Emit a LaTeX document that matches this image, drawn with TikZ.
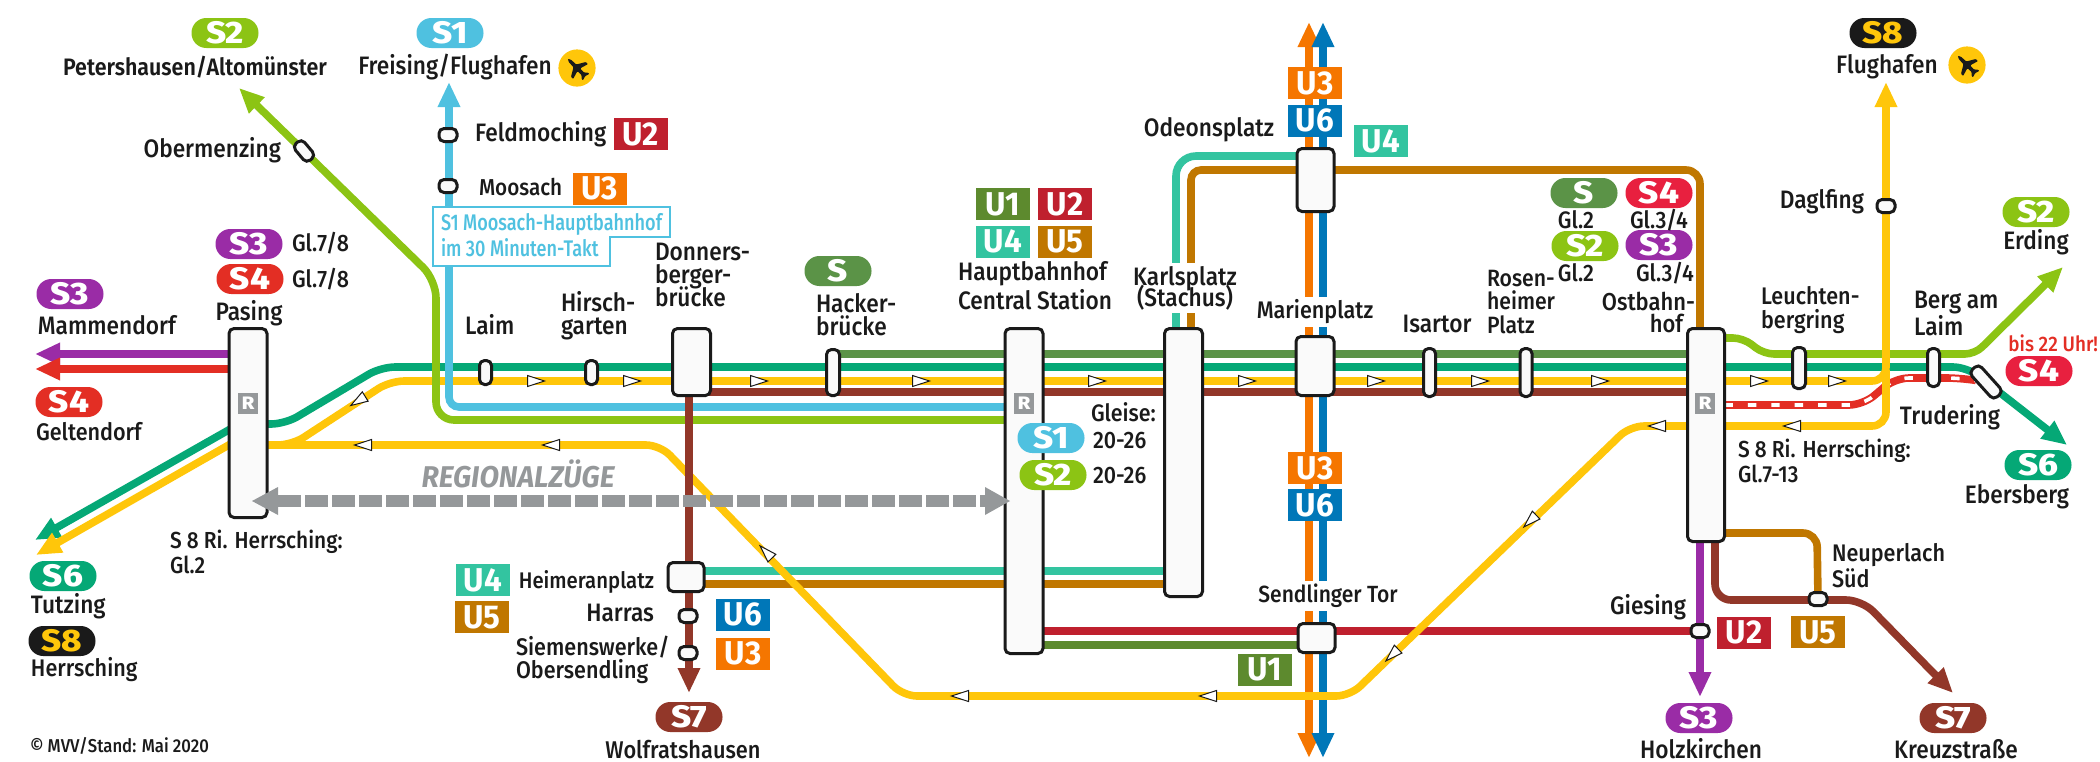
\documentclass[tikz,border=0pt]{standalone}
\usepackage{fontspec}
\usetikzlibrary{arrows.meta,calc}
\setmainfont[FakeStretch=0.9,UprightFont={Fira Sans Medium},BoldFont={Fira Sans SemiBold}]{Fira Sans}
\newfontfamily\pillf[FakeStretch=1.12]{Fira Sans ExtraBold}
\newfontfamily\boxf[FakeStretch=0.95]{Fira Sans Bold}
\newfontfamily\narrowf[FakeStretch=0.8]{Fira Sans Medium}
\newfontfamily\regf[FakeStretch=0.95,ItalicFont={Fira Sans Bold Italic}]{Fira Sans}
\newcommand\tightls{\lineskiplimit-50pt\relax}
\definecolor{cSa}{HTML}{4FC1E0}
\definecolor{cSb}{HTML}{8CC414}
\definecolor{cSc}{HTML}{9A2CA6}
\definecolor{cSd}{HTML}{E32E24}
\definecolor{cSdb}{HTML}{E8203F}
\definecolor{cSf}{HTML}{05A876}
\definecolor{cSg}{HTML}{923729}
\definecolor{cSh}{HTML}{FFC60A}
\definecolor{cS}{HTML}{5B9347}
\definecolor{cUa}{HTML}{5D8A2E}
\definecolor{cUb}{HTML}{BF202E}
\definecolor{cUc}{HTML}{F57600}
\definecolor{cUd}{HTML}{33C4A0}
\definecolor{cUe}{HTML}{C07700}
\definecolor{cUf}{HTML}{0077B8}
\definecolor{cBk}{HTML}{1A1A1A}
\definecolor{cGy}{HTML}{95989A}
\pgfdeclarelayer{bg}
\pgfsetlayers{bg,main}
\tikzset{
  pill/.style={rectangle,rounded corners=7.4pt,minimum width=33.5pt,minimum height=15pt,inner sep=0pt,outer sep=0pt,text=white,font=\pillf\fontsize{15.5}{15.5}\selectfont},
  ubox/.style={rectangle,minimum width=27pt,minimum height=16pt,inner sep=0pt,outer sep=0pt,text=white,font=\boxf\fontsize{16.5}{16.5}\selectfont},
  lab/.style={inner sep=0pt,outer sep=0pt,text=cBk,font=\fontsize{12.6}{12.6}\selectfont},
  labl/.style={lab,anchor=west,align=left,font={\fontsize{12.6}{11.6}\selectfont\tightls}},
  labw/.style={lab,fill=white,inner xsep=1pt,inner ysep=1.5pt,align=center,font={\fontsize{12.6}{10.6}\selectfont\tightls}},
  labs/.style={lab,font=\fontsize{11.9}{11.9}\selectfont},
  stn/.style 2 args={rectangle,draw=cBk,fill=white!98!black,line width=1.5pt,rounded corners=2.5pt,inner sep=0pt,outer sep=0pt,minimum width=#1*0.5pt-1.5pt,minimum height=#2*0.5pt-1.5pt},
  halt/.style={stn={21}{16}},
  rsign/.style={rectangle,fill=cGy,text=white,minimum width=10pt,minimum height=10.5pt,inner sep=0pt,font=\pillf\fontsize{9}{9}\selectfont},
  trk/.style={line width=3.8pt,rounded corners=#1,line cap=butt},
  trk/.default=6pt,
  tip/.style={-{Triangle[length=12.5pt,width=10.5pt]}},
  tri/.style={draw=cBk,fill=white,line width=0.5pt,line join=miter}
}
\newcommand\marker[3]{\draw[tri,shift={(#1,#2)},rotate=#3] (-8.5,-5.5) -- (8.5,0) -- (-8.5,5.5) -- cycle;}
\newcommand\planeicon[3]{%
  \fill[cSh] (#1,#2) circle (9.3pt);
  \begin{scope}[shift={(#1,#2)},rotate=#3,x=0.5pt,y=0.5pt]
   \fill[cBk,rounded corners=0.4pt] (13,0) -- (10,1.6) -- (3,2) -- (-2,10.5) -- (-5,10.5) -- (-2.5,2) -- (-8,1.7) -- (-11,4.5) -- (-13,4.5) -- (-11.5,0) -- (-13,-4.5) -- (-11,-4.5) -- (-8,-1.7) -- (-2.5,-2) -- (-5,-10.5) -- (-2,-10.5) -- (3,-2) -- (10,-1.6) -- cycle;
  \end{scope}}
\begin{document}
\begin{tikzpicture}[x=0.5pt,y=-0.5pt]
\useasboundingbox (0,0) rectangle (2100,761);
% stations
\node[stn={41}{192}] (pasing) at (248,423) {};
\node[stn={15}{27}] (laim) at (485.5,372.5) {};
\node[stn={15}{27}] (hirsch) at (591.5,372.5) {};
\node[stn={41}{70}] (donners) at (691.5,362) {};
\node[stn={16}{49}] (hacker) at (833,372.5) {};
\node[stn={41}{328}] (hbf) at (1024,491) {};
\node[stn={41}{271}] (karl) at (1183.5,462.5) {};
\node[stn={41}{62}] (marien) at (1315,366) {};
\node[stn={40}{66}] (odeon) at (1315.5,180) {};
\node[stn={40}{32}] (sendl) at (1316.5,638) {};
\node[stn={15}{51}] (isar) at (1429.5,372.5) {};
\node[stn={15}{51}] (rosen) at (1526,372.5) {};
\node[stn={40}{216}] (ost) at (1706,435) {};
\node[stn={16}{44}] (leucht) at (1799,368) {};
\node[stn={15}{41}] (berg) at (1933.5,367.5) {};
\node[stn={40}{16},rotate=-48] (trud) at (1986,382) {};
\node[stn={39}{32}] (heim) at (686,577) {};
\node[halt] (harras) at (688,616) {};
\node[halt] (siem) at (688,653) {};
\node[halt] (feld) at (448,135) {};
\node[halt] (moos) at (448,186) {};
\node[stn={25}{15},rotate=-50] (oberm) at (304,151) {};
\node[halt] (dagl) at (1886,206) {};
\node[halt] (gies) at (1700,631) {};
\node[halt] (neup) at (1818,599) {};
\node[rsign] (rA) at (248,403) {R};
\node[rsign] (rB) at (1024,403) {R};
\node[rsign] (rC) at (1705,403) {R};
% free ends
\coordinate (tSbW) at (239,88);
\coordinate (tSaN) at (449,82);
\coordinate (tScW) at (35,354);
\coordinate (tSdW) at (35,369);
\coordinate (tSfW) at (35,540);
\coordinate (tShW) at (36,555);
\coordinate (tSgS) at (689,693);
\coordinate (tShN) at (1886,82);
\coordinate (tSbE) at (2063,267);
\coordinate (tSfE) at (2067,445);
\coordinate (tScS) at (1700,697);
\coordinate (tSgE) at (1953,693);
\coordinate (tUcN) at (1309,22);
\coordinate (tUfN) at (1323,22);
\coordinate (tUcS) at (1309,758);
\coordinate (tUfS) at (1323,758);
\begin{pgfonlayer}{bg}
% U3 U6
\draw[trk,cUc,tip] (1309,150) -- (tUcN);
\draw[trk,cUf,tip] (1323,150) -- (tUfN);
\draw[trk,cUc] (1309,210) -- (1309,640);
\draw[trk,cUf] (1323,210) -- (1323,640);
\draw[trk,cUc,tip] (1309,640) -- (tUcS);
\draw[trk,cUf,tip] (1323,640) -- (tUfS);
% U4 U5 north
\draw[trk=10pt,cUd] (odeon |- 0,156) -- (1176,156) -- (karl.north -| 1176,0);
\draw[trk=5pt,cUe] (odeon |- 0,170) -- (1191,170) -- (karl.north -| 1191,0);
\draw[trk=7pt,cUe] (odeon |- 0,170) -- (1700,170) -- (ost.north -| 1700,0);
% U4 U5 south
\draw[trk,cUd] (heim |- 0,571) -- (karl |- 0,571);
\draw[trk,cUe] (heim |- 0,584) -- (karl |- 0,584);
% U1 U2
\draw[trk,cUb] (hbf |- 0,631) -- (gies);
\draw[trk,cUa] (hbf |- 0,645) -- (sendl |- 0,645);
% S lines
\draw[trk,cS] (hacker |- 0,354) -- (ost |- 0,354);
\draw[trk=5pt,cSb,tip] (ost |- 0,338) -- (1743,338) -- (1764,354) -- (1975,354) -- (tSbE);
\draw[trk=7pt,cSf,tip] (pasing |- 0,424) -- (285,424) -- (381,367) -- (1967,367) -- (tSfE);
\draw[cSf,line width=3.8pt,tip] (pasing |- 0,419) -- (tSfW);
\draw[cSh,line width=3.8pt,tip] (pasing |- 0,434) -- (tShW);
\draw[trk,cSc,tip] (pasing |- 0,354) -- (tScW);
\draw[trk,cSd,tip] (pasing |- 0,369) -- (tSdW);
\draw[trk,cSg] (donners |- 0,392) -- (ost |- 0,392);
\draw[trk,cSc,tip] (ost.south -| 1700,0) -- (tScS);
\draw[trk=8pt,cSg,tip] (ost.south -| 1715,0) -- (1715,600) -- (1862,600) -- (tSgE);
\draw[trk=7pt,cUe] (ost |- 0,533) -- (1817,533) -- (neup);
% S4 dashed
\draw[trk=7pt,cSd] (ost |- 0,405) -- (1863,405) -- (1895,378) -- (1960,378) -- (trud);
\draw[line width=1.8pt,white,dash pattern=on 4.2pt off 7.5pt,rounded corners=7pt] (ost.east |- 0,405) -- (1863,405) -- (1895,378) -- (1960,378) -- (trud);
% yellow
\draw[trk=7pt,cSh,tip] (pasing |- 0,445) -- (292,445) -- (390,381) -- (1886,381) -- (tShN);
\draw[trk=7pt,cSh] (pasing |- 0,445) -- (660,445) -- (903,696) -- (1350,696) -- (1630,426) -- (1886,426) -- (1886,370);
% S1 S2 north-west
\draw[trk=5pt,cSa,tip] (hbf |- 0,407) -- (449,407) -- (tSaN);
\draw[trk=9pt,cSb,tip] (hbf |- 0,420) -- (436,420) -- (436,280) -- (tSbW);
% S7 south
\draw[trk,cSg,tip] (donners.south -| 689,0) -- (tSgS);
\end{pgfonlayer}
% regional arrow
\draw[cGy,line width=6.3pt,dash pattern=on 11.25pt off 2.25pt] (278,501) -- (990,501);
\fill[cGy] (252,501) -- (278,487) -- (278,515) -- cycle;
\fill[cGy] (1010,501) -- (985,487) -- (985,515) -- cycle;
% yellow markers
\marker{358}{401}{212}
\marker{536}{381}{0}
\marker{632}{381}{0}
\marker{759}{381}{0}
\marker{921}{381}{0}
\marker{1097}{381}{0}
\marker{1247}{381}{0}
\marker{1376}{381}{0}
\marker{1480}{381}{0}
\marker{1600}{381}{0}
\marker{1759}{381}{0}
\marker{1837}{381}{0}
\marker{363}{445}{180}
\marker{551}{445}{180}
\marker{766}{552}{134}
\marker{960}{696}{180}
\marker{1208}{696}{180}
\marker{1392}{655}{224}
\marker{1530}{521}{224}
\marker{1657}{426}{180}
\marker{1792}{426}{180}
% callout
\filldraw[cSa,fill=white,line width=1.2pt] (433,207) -- (670,207) -- (670,237) -- (610,237) -- (610,266) -- (433,266) -- cycle;
\node[lab,text=cSa,anchor=west,font=\narrowf\fontsize{11.3}{11.3}\selectfont] (callA) at (441,224) {S1 Moosach-Hauptbahnhof};
\node[lab,text=cSa,anchor=west,font=\narrowf\fontsize{11.3}{11.3}\selectfont] (callB) at (441,248) {im 30 Minuten-Takt};
% pills
\node[pill,fill=cSb] (pSbN) at (225,33) {S2};
\node[pill,fill=cSa] (pSaN) at (450,33) {S1};
\node[pill,fill=cSc] (pScP) at (249,244) {S3};
\node[pill,fill=cSd] (pSdP) at (250,279) {S4};
\node[pill,fill=cSc] (pScW) at (70,294) {S3};
\node[pill,fill=cSd] (pSdW) at (69,402) {S4};
\node[pill,fill=cSf] (pSfW) at (63,576) {S6};
\node[pill,fill=cBk,text=cSh] (pShW) at (62,641) {S8};
\node[pill,fill=cS] (pSh) at (838,271) {S};
\node[pill,fill=cSa] (pSaH) at (1051,438) {S1};
\node[pill,fill=cSb] (pSbH) at (1053,475) {S2};
\node[pill,fill=cBk,text=cSh] (pShN) at (1883,33) {S8};
\node[pill,fill=cS] (pSo) at (1584,193) {S};
\node[pill,fill=cSdb] (pSdO) at (1659,193) {S4};
\node[pill,fill=cSb] (pSbO) at (1585,246) {S2};
\node[pill,fill=cSc] (pScO) at (1659,245) {S3};
\node[pill,fill=cSb] (pSbE) at (2036,212) {S2};
\node[pill,fill=cSdb] (pSdE) at (2039,371) {S4};
\node[pill,fill=cSf] (pSfE) at (2038,465) {S6};
\node[pill,fill=cSg] (pSgW) at (689,717) {S7};
\node[pill,fill=cSc] (pScS) at (1699,718) {S3};
\node[pill,fill=cSg] (pSgE) at (1953,718) {S7};
% U boxes
\node[ubox,fill=cUb] (uFeld) at (640.5,134) {U2};
\node[ubox,fill=cUc] (uMoos) at (599.5,188.5) {U3};
\node[ubox,fill=cUa] (uHa) at (1003,204) {U1};
\node[ubox,fill=cUb] (uHb) at (1065,204) {U2};
\node[ubox,fill=cUd] (uHd) at (1003,241.5) {U4};
\node[ubox,fill=cUe] (uHe) at (1065,241.5) {U5};
\node[ubox,fill=cUc] (uNc) at (1315,83) {U3};
\node[ubox,fill=cUf] (uNf) at (1315,120.5) {U6};
\node[ubox,fill=cUd] (uOd) at (1381,141) {U4};
\node[ubox,fill=cUc] (uSc) at (1315,468) {U3};
\node[ubox,fill=cUf] (uSf) at (1315,505) {U6};
\node[ubox,fill=cUa] (uSa) at (1265,669.5) {U1};
\node[ubox,fill=cUd] (uWd) at (483,580) {U4};
\node[ubox,fill=cUe] (uWe) at (482,617) {U5};
\node[ubox,fill=cUf] (uWf) at (743,614.5) {U6};
\node[ubox,fill=cUc] (uWc) at (743,653.5) {U3};
\node[ubox,fill=cUb] (uEb) at (1744,632.5) {U2};
\node[ubox,fill=cUe] (uEe) at (1818,632) {U5};
% planes
\planeicon{577}{68}{135}
\planeicon{1967}{65}{135}
% labels
\node[lab,font=\bfseries\fontsize{11.9}{12}\selectfont] (lPet) at (195,67) {Petershausen/Altomünster};
\node[lab] (lFre) at (455,67) {Freising/Flughafen};
\node[labl] (lFel) at (475,134) {Feldmoching};
\node[labl,font=\fontsize{11.5}{12}\selectfont] (lMoo) at (479,187) {Moosach};
\node[lab,anchor=east] (lObe) at (281,150) {Obermenzing};
\node[labs,anchor=west] (lGa) at (292,243) {Gl.7/8};
\node[labs,anchor=west] (lGb) at (292,279) {Gl.7/8};
\node[lab] (lPas) at (249,313) {Pasing};
\node[labl] (lMam) at (38,325) {Mammendorf};
\node[labl,font=\fontsize{12}{12}\selectfont] (lGel) at (36,432) {Geltendorf};
\node[labl] (lTut) at (31,606) {Tutzing};
\node[labl,font=\fontsize{12}{12}\selectfont] (lHer) at (31,670) {Herrsching};
\node[labl,font=\fontsize{11.6}{12.5}\selectfont] (lRiW) at (170,551.5) {S 8 Ri. Herrsching:\\Gl.2};
\node[lab,text=cGy,font=\regf\itshape\fontsize{15}{15}\selectfont] (lReg) at (518,474) {REGIONALZÜGE};
\node[labl] (lLai) at (465,325) {Laim};
\node[labl] (lHir) at (561,316) {Hirsch-\\garten};
\node[labl] (lDon) at (655,275) {Donners-\\berger-\\brücke};
\node[labl] (lHac) at (816,315) {Hacker-\\brücke};
\node[labl,font=\fontsize{12.6}{14.5}\selectfont] (lHbf) at (958,286) {Hauptbahnhof\\Central Station};
\node[labw] (lKar) at (1185,288) {Karlsplatz\\(Stachus)};
\node[labw,font=\fontsize{12}{12}\selectfont] (lMar) at (1315,312) {Marienplatz};
\node[lab] (lOde) at (1209,130) {Odeonsplatz};
\node[labs,anchor=west] (lGle) at (1091,412) {Gleise:};
\node[labs,anchor=west] (lGc) at (1093,441) {20-26};
\node[labs,anchor=west] (lGd) at (1093,476) {20-26};
\node[labw,font=\fontsize{11.7}{12}\selectfont] (lSen) at (1328,596) {Sendlinger Tor};
\node[lab,anchor=east,font=\fontsize{11.3}{12}\selectfont] (lHei) at (654,582) {Heimeranplatz};
\node[lab,anchor=east] (lHar) at (654,613) {Harras};
\node[labl,font={\fontsize{12}{11.6}\selectfont\tightls}] (lSie) at (516,660) {Siemenswerke/\\Obersendling};
\node[lab,font=\fontsize{12.1}{12}\selectfont] (lWol) at (683,750) {Wolfratshausen};
\node[labl,font=\fontsize{9.3}{10}\selectfont] (lCop) at (30,746) {© MVV/Stand: Mai 2020};
\node[lab] (lFlu) at (1887,67) {Flughafen};
\node[lab,anchor=east] (lDag) at (1864,202) {Daglfing};
\node[labs] (lGl1) at (1576,220) {Gl.2};
\node[labs] (lGl2) at (1659,220) {Gl.3/4};
\node[labs] (lGl3) at (1576,273) {Gl.2};
\node[labs] (lGl4) at (1665,273) {Gl.3/4};
\node[lab,anchor=east,align=right,font={\fontsize{12.2}{11}\selectfont\tightls}] (lOst) at (1695,312) {Ostbahn-\\hof\hspace*{6pt}};
\node[lab] (lIsa) at (1437,324) {Isartor};
\node[labl,font={\fontsize{11.8}{11.6}\selectfont\tightls}] (lRos) at (1487,302) {Rosen-\\heimer\\Platz};
\node[labl,font={\fontsize{12}{11.6}\selectfont\tightls}] (lLeu) at (1761,310) {Leuchten-\\bergring};
\node[labl,font=\fontsize{12.6}{13.5}\selectfont] (lBer) at (1914,313) {Berg am\\Laim};
\node[lab] (lErd) at (2036,242) {Erding};
\node[lab,text=cSd,font=\fontsize{10.5}{11}\selectfont,anchor=east] (lBis) at (2098,343) {bis 22 Uhr!};
\node[lab] (lTru) at (1950,417) {Trudering};
\node[lab] (lEbe) at (2017,497) {Ebersberg};
\node[labl,font=\fontsize{11.6}{12.5}\selectfont] (lRiE) at (1738,460.5) {S 8 Ri. Herrsching:\\Gl.7-13};
\node[labl,font=\fontsize{12}{13}\selectfont] (lNeu) at (1832,566) {Neuperlach\\Süd};
\node[lab,anchor=east] (lGie) at (1686,607) {Giesing};
\node[lab] (lHol) at (1701,749) {Holzkirchen};
\node[lab] (lKre) at (1956,749) {Kreuzstraße};
\end{tikzpicture}
\end{document}
